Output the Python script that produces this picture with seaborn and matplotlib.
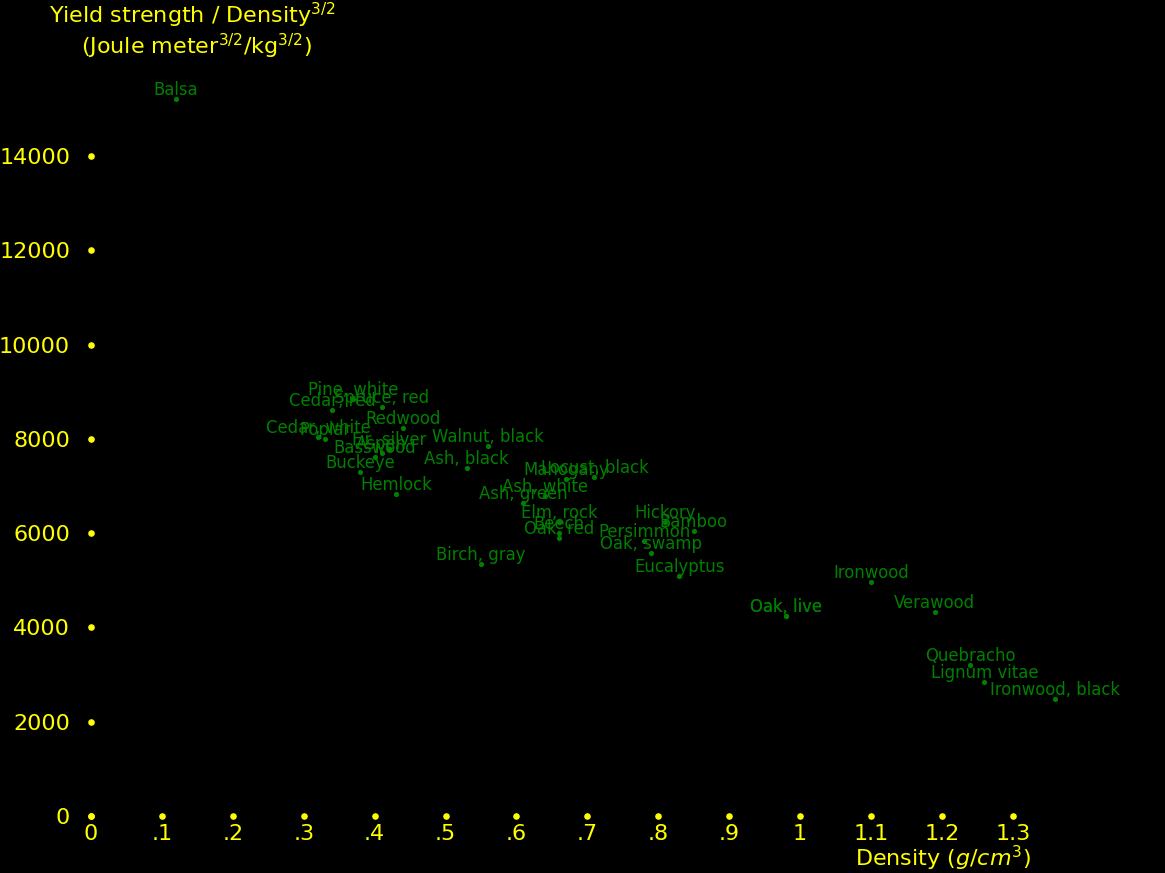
import numpy as np
import pandas as pd
import seaborn as sns
import matplotlib
matplotlib.use("Agg")
import matplotlib.pyplot as plt

# wood species, density (g/cm3) and specific yield strength
woods = ["Balsa", "Pine, white", "Cedar, red", "Spruce, red", "Redwood",
         "Cedar, white", "Poplar", "Fir, silver", "Aspen", "Basswood",
         "Buckeye", "Hemlock", "Walnut, black", "Ash, black", "Mahogany",
         "Locust, black", "Ash, white", "Ash, green", "Elm, rock", "Beech",
         "Oak, red", "Birch, gray", "Hickory", "Bamboo", "Persimmon",
         "Oak, swamp", "Eucalyptus", "Ironwood", "Oak, live", "Oak, live",
         "Verawood", "Quebracho", "Lignum vitae", "Ironwood, black"]
density = [0.12, 0.37, 0.34, 0.41, 0.44,
           0.32, 0.33, 0.42, 0.41, 0.40,
           0.38, 0.43, 0.56, 0.53, 0.67,
           0.71, 0.64, 0.61, 0.66, 0.66,
           0.66, 0.55, 0.81, 0.85, 0.78,
           0.79, 0.83, 1.10, 0.98, 0.98,
           1.19, 1.24, 1.26, 1.36]
strength = [15210, 8850, 8610, 8680, 8230,
            8040, 8000, 7790, 7700, 7610,
            7300, 6830, 7850, 7380, 7150,
            7190, 6790, 6640, 6240, 6000,
            5900, 5350, 6240, 6050, 5830,
            5580, 5090, 4960, 4240, 4240,
            4330, 3200, 2840, 2480]

xticks = [0, 0.1, 0.2, 0.3, 0.4, 0.5, 0.6, 0.7, 0.8, 0.9, 1.0, 1.1, 1.2, 1.3]
xtick_labels = ["0", ".1", ".2", ".3", ".4", ".5", ".6", ".7", ".8", ".9",
                "1", "1.1", "1.2", "1.3"]
yticks = [0, 2000, 4000, 6000, 8000, 10000, 12000, 14000]

df = pd.DataFrame({"wood": woods, "density": density, "strength": strength})

sns.set_style("white")
plt.rcParams["font.family"] = ["DejaVu Sans"]

W, H = 1165, 873
fig = plt.figure(figsize=(W / 100, H / 100), dpi=100, facecolor="black")
# x=0 at px 91, 709 px per unit; y=0 at px 816, 47.14 px per 1000
ax = fig.add_axes([91 / W, 57 / H, 1.5 * 709 / W, 16 * 47.14 / H])
ax.set_facecolor("black")
ax.set_xlim(0, 1.5)
ax.set_ylim(0, 16000)

sns.scatterplot(data=df, x="density", y="strength", color="#008000",
                s=14, linewidth=0, ax=ax, legend=False)

for _, row in df.iterrows():
    ax.annotate(row["wood"], (row["density"], row["strength"]),
                xytext=(0, 3), textcoords="offset points",
                ha="center", va="baseline", color="#008000", fontsize=11.9)

# yellow dots instead of tick marks
ax.scatter(xticks, [0] * len(xticks), s=14, color="yellow", clip_on=False, zorder=3)
ax.scatter([0] * len(yticks), yticks, s=14, color="yellow", clip_on=False, zorder=3)

ax.set_xticks(xticks)
ax.set_xticklabels(xtick_labels)
ax.set_yticks(yticks)
ax.set_yticklabels([str(v) for v in yticks])
ax.tick_params(length=0, colors="yellow", labelsize=16)
ax.tick_params(axis="y", pad=15)
ax.tick_params(axis="x", pad=6)
for s in ax.spines.values():
    s.set_visible(False)
ax.set_xlabel("")
ax.set_ylabel("")

fig.text(192 / W, 1 - 15 / H, "Yield strength / Density$^{3/2}$",
         ha="center", va="center", color="yellow", fontsize=16)
fig.text(196 / W, 1 - 46 / H, "(Joule meter$^{3/2}$/kg$^{3/2}$)",
         ha="center", va="center", color="yellow", fontsize=16)
fig.text(855 / W, 1 - 858 / H, "Density ($g/cm^3$)",
         ha="left", va="center", color="yellow", fontsize=16)

fig.savefig("out.png", dpi=100, facecolor="black")
